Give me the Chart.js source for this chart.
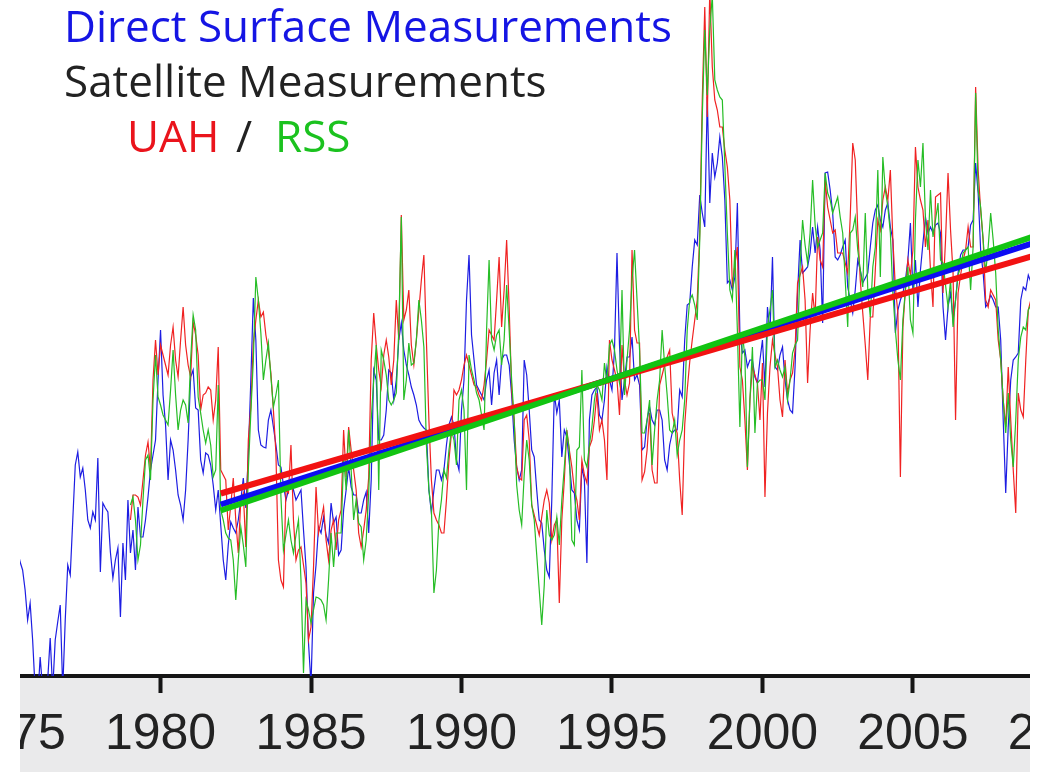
<!DOCTYPE html>
<html>
<head>
<meta charset="utf-8">
<title>Surface and satellite temperature records</title>
<script src="https://cdn.jsdelivr.net/npm/chart.js@4.4.1/dist/chart.umd.min.js"></script>
<style>
  html, body { margin: 0; padding: 0; background: #ffffff; }
  #wrap { position: relative; width: 1041px; height: 772px; }
  canvas { display: block; }
</style>
</head>
<body>
<div id="wrap"><canvas id="chart" width="1041" height="772"></canvas></div>
<script>
// Year ticks along the bottom axis
const tickYears = [1975, 1980, 1985, 1990, 1995, 2000, 2005, 2010];

// Monthly temperature anomalies (deg C), one row per year
const surfaceStartYear = 1975;
const surfaceMonthly = [
  -0.206, -0.236, -0.216, -0.226, -0.25, -0.266, -0.306, -0.366, -0.332, -0.406, -0.506, -0.526, // 1975
  -0.44, -0.506, -0.526, -0.486, -0.402, -0.506, -0.406, -0.37, -0.336, -0.506, -0.366, -0.256,  // 1976
  -0.276, -0.166, -0.056, -0.03, -0.08, -0.062, -0.106, -0.166, -0.182, -0.15, -0.166, -0.042,   // 1977
  -0.27, -0.132, -0.142, -0.15, -0.23, -0.282, -0.246, -0.222, -0.36, -0.212, -0.286, -0.126,    // 1978
  -0.232, -0.186, -0.266, -0.14, -0.2, -0.2, -0.166, -0.12, -0.066, -0.036, -0.006, 0.114,       // 1979
  0.214, 0.084, 0.024, -0.086, -0.006, -0.026, -0.066, -0.116, -0.136, -0.166, -0.106, -0.006,   // 1980
  0.12, 0.134, 0.058, 0.054, -0.046, -0.072, -0.032, -0.036, -0.056, -0.096, -0.146, -0.106,     // 1981
  -0.176, -0.246, -0.286, -0.216, -0.17, -0.182, -0.192, -0.166, -0.126, -0.082, -0.142, -0.036, // 1982
  0.114, 0.278, 0.194, 0.014, -0.016, -0.02, -0.022, 0.034, 0.054, 0.02, -0.016, -0.056,         // 1983
  -0.06, -0.096, -0.126, -0.106, -0.086, -0.106, -0.126, -0.116, -0.106, -0.186, -0.26, -0.412,  // 1984
  -0.496, -0.312, -0.256, -0.18, -0.192, -0.16, -0.196, -0.212, -0.132, -0.172, -0.16, -0.236,   // 1985
  -0.226, -0.146, -0.106, -0.06, -0.1, -0.116, -0.116, -0.152, -0.152, -0.126, -0.11, -0.192,    // 1986
  -0.086, 0.134, 0.114, -0.006, -0.006, 0.004, 0.054, 0.134, 0.128, 0.074, 0.114, 0.194,         // 1987
  0.228, 0.174, 0.144, 0.124, 0.1, 0.084, 0.064, 0.034, 0.024, 0.018, 0.014, -0.106,             // 1988
  -0.152, -0.106, -0.066, -0.066, -0.086, -0.066, -0.016, 0.024, 0.04, 0.024, -0.046, -0.066,    // 1989
  0.054, 0.114, 0.274, 0.364, 0.204, 0.154, 0.104, 0.094, 0.084, 0.074, 0.114, 0.134,            // 1990
  0.064, 0.128, 0.154, 0.084, 0.154, 0.164, 0.164, 0.144, 0.084, -0.006, -0.06, -0.086,          // 1991
  -0.066, 0.154, 0.124, 0.054, -0.026, -0.04, -0.106, -0.166, -0.172, -0.226, -0.266, -0.28,     // 1992
  -0.126, 0.088, 0.048, 0.074, -0.04, 0.014, 0, -0.052, -0.106, -0.112, -0.166, -0.186,          // 1993
  -0.06, -0.086, -0.252, 0.034, 0.084, 0.094, 0.1, 0.044, 0.034, 0.074, 0.14, 0.114,             // 1994
  0.094, 0.174, 0.368, 0.184, 0.074, 0.114, 0.16, 0.16, 0.2, 0.114, 0.124, 0.104,                // 1995
  -0.026, -0.02, 0.034, 0.06, 0.034, 0.024, 0.054, 0.054, 0.034, -0.046, -0.066, -0.016,         // 1996
  0.008, 0.014, 0.014, 0.094, 0.08, 0.194, 0.264, 0.268, 0.34, 0.394, 0.384, 0.484,              // 1997
  0.448, 0.42, 0.68, 0.468, 0.568, 0.52, 0.548, 0.6, 0.56, 0.474, 0.308, 0.314,                  // 1998
  0.294, 0.32, 0.468, 0.208, 0.168, 0.174, 0.14, 0.154, 0.154, 0.12, 0.108, 0.154,               // 1999
  0.194, 0.1, 0.26, 0.208, 0.36, 0.14, 0.134, 0.164, 0.18, 0.114, 0.074, 0.054,                  // 2000
  0.048, 0.14, 0.288, 0.394, 0.328, 0.334, 0.34, 0.368, 0.42, 0.368, 0.42, 0.374,                // 2001
  0.228, 0.528, 0.53, 0.494, 0.448, 0.36, 0.354, 0.364, 0.38, 0.394, 0.3, 0.274,                 // 2002
  0.248, 0.294, 0.354, 0.334, 0.308, 0.318, 0.328, 0.38, 0.428, 0.454, 0.464, 0.434,             // 2003
  0.42, 0.454, 0.468, 0.42, 0.394, 0.208, 0.254, 0.274, 0.288, 0.314, 0.354, 0.428,              // 2004
  0.288, 0.354, 0.26, 0.334, 0.388, 0.44, 0.408, 0.42, 0.408, 0.424, 0.428, 0.408,               // 2005
  0.26, 0.194, 0.26, 0.288, 0.234, 0.274, 0.328, 0.364, 0.374, 0.374, 0.38, 0.424,               // 2006
  0.434, 0.548, 0.488, 0.374, 0.328, 0.26, 0.268, 0.284, 0.274, 0.26, 0.26, 0.194,               // 2007
  0.034, -0.112, 0.02, 0.114, 0.154, 0.16, 0.168, 0.274, 0.3, 0.294, 0.324, 0.31                 // 2008
];

const satelliteStartYear = 1979;
const uahMonthly = [
  -0.166, -0.116, -0.116, -0.12, -0.136, -0.086, -0.036, -0.01, -0.066, 0.114, 0.194, 0.124,     // 1979
  0.184, 0.164, 0.144, 0.124, 0.184, 0.22, 0.154, 0.12, 0.194, 0.26, 0.184, 0.144,               // 1980
  0.12, 0.23, 0.204, 0.164, 0.054, 0.084, 0.088, 0.1, 0.094, 0.034, 0.074, 0.18,                 // 1981
  -0.066, -0.076, -0.086, -0.186, -0.136, -0.082, -0.166, -0.232, -0.126, -0.112, -0.22, -0.006, // 1982
  0.06, 0.188, 0.234, 0.274, 0.24, 0.25, 0.204, 0.174, 0.128, 0.054, -0.032, -0.246,             // 1983
  -0.286, -0.3, -0.106, -0.112, -0.016, -0.166, -0.246, -0.226, -0.22, -0.256, -0.292, -0.406,   // 1984
  -0.38, -0.26, -0.1, -0.192, -0.166, -0.14, -0.206, -0.246, -0.186, -0.166, -0.226, -0.166,     // 1985
  -0.146, 0.014, -0.08, 0.02, -0.026, -0.066, -0.106, -0.192, -0.22, -0.186, -0.146, -0.08,      // 1986
  0.154, 0.248, 0.184, 0.134, 0.1, 0.164, 0.194, 0.16, 0.104, 0.154, 0.274, 0.194,               // 1987
  0.444, 0.234, 0.254, 0.294, 0.184, 0.144, 0.194, 0.254, 0.314, 0.364, 0.194, 0.034,            // 1988
  -0.086, -0.152, -0.166, -0.176, -0.192, -0.192, -0.126, -0.046, 0.008, 0.094, 0.084, 0.094,    // 1989
  0.114, 0.144, 0.164, 0.144, 0.124, 0.104, 0.1, 0.084, 0.074, 0.104, 0.154, 0.214,              // 1990
  0.204, 0.194, 0.274, 0.36, 0.22, 0.294, 0.394, 0.26, 0.094, 0.034, -0.06, -0.082,              // 1991
  -0.086, 0.034, 0.044, -0.006, -0.136, -0.156, -0.176, -0.196, -0.16, -0.126, -0.106, -0.132,   // 1992
  -0.206, -0.176, -0.166, -0.332, -0.166, -0.086, 0.014, -0.026, -0.06, -0.106, -0.126, -0.166,  // 1993
  -0.046, -0.076, -0.092, -0.02, -0.006, 0.034, 0.088, 0.014, 0.034, -0.006, -0.086, 0.194,      // 1994
  0.154, 0.134, 0.114, 0.044, 0.184, 0.114, 0.084, 0.108, 0.374, 0.214, 0.188, 0.188,            // 1995
  -0.086, -0.07, -0.026, 0.048, -0.066, -0.092, -0.092, 0.104, 0.124, 0.144, 0.16, 0.174,        // 1996
  0.048, 0.024, 0.008, -0.086, -0.156, 0.024, 0.094, 0.15, 0.194, 0.234, 0.274, 0.408,           // 1997
  0.674, 0.86, 0.64, 0.894, 0.74, 0.674, 0.654, 0.62, 0.62, 0.574, 0.54, 0.474,                  // 1998
  0.3, 0.344, 0.38, 0.14, 0.114, 0.034, -0.066, 0.074, 0.14, 0.124, 0.108, 0.034,                // 1999
  0.148, -0.12, 0.048, 0.14, 0.194, 0.164, 0.14, 0.074, 0.04, 0.154, 0.088, 0.114,               // 2000
  0.128, 0.174, 0.308, 0.324, 0.34, 0.274, 0.108, 0.214, 0.288, 0.24, 0.4, 0.354,                // 2001
  0.34, 0.514, 0.46, 0.434, 0.408, 0.414, 0.368, 0.368, 0.368, 0.348, 0.328, 0.44,               // 2002
  0.588, 0.554, 0.414, 0.314, 0.248, 0.184, 0.114, 0.24, 0.24, 0.334, 0.434, 0.414,              // 2003
  0.474, 0.5, 0.474, 0.534, 0.394, 0.3, 0.248, -0.08, 0.22, 0.294, 0.354, 0.324,                 // 2004
  0.374, 0.58, 0.5, 0.474, 0.454, 0.38, 0.434, 0.334, 0.26, 0.48, 0.484, 0.488,                  // 2005
  0.288, 0.394, 0.528, 0.414, 0.328, 0.034, 0.288, 0.324, 0.354, 0.374, 0.42, 0.38,              // 2006
  0.38, 0.7, 0.534, 0.454, 0.394, 0.274, 0.26, 0.294, 0.284, 0.274, 0.194, 0.154,                // 2007
  0.074, 0.02, 0.14, 0.034, -0.066, -0.152, 0.088, 0.054, 0.04, 0.154, 0.254, 0.274              // 2008
];

const rssMonthly = [
  -0.136, -0.12, -0.166, -0.246, -0.216, -0.126, -0.046, -0.036, -0.086, 0.074, 0.164, 0.08,     // 1979
  0.064, 0.044, 0.034, 0.024, 0.094, 0.174, 0.084, 0.014, 0.054, 0.074, 0.064, 0.028,            // 1980
  0.154, 0.244, 0.214, 0.08, 0.048, 0.014, -0.012, 0.014, -0.016, -0.08, -0.066, 0.104,          // 1981
  -0.146, -0.166, -0.192, -0.202, -0.206, -0.246, -0.326, -0.246, -0.18, -0.216, -0.26, -0.066,  // 1982
  0.048, 0.154, 0.32, 0.274, 0.208, 0.114, 0.154, 0.188, 0.12, 0.06, 0.084, 0.114,               // 1983
  -0.12, -0.226, -0.196, -0.166, -0.206, -0.232, -0.196, -0.166, -0.286, -0.472, -0.326, -0.346, // 1984
  -0.372, -0.346, -0.32, -0.322, -0.326, -0.336, -0.366, -0.286, -0.192, -0.26, -0.192, -0.192,  // 1985
  -0.192, -0.04, -0.106, 0.014, -0.066, -0.166, -0.126, -0.172, -0.18, -0.246, -0.206, -0.112,   // 1986
  0.034, 0.114, 0.184, -0.106, 0.174, 0.154, 0.124, 0.074, 0.064, 0.074, 0.088, 0.214,           // 1987
  0.44, 0.074, 0.114, 0.188, 0.144, 0.148, 0.194, 0.274, 0.234, 0.18, -0.016, -0.106,            // 1988
  -0.146, -0.312, -0.266, -0.166, -0.126, -0.066, -0.082, -0.026, 0.014, -0.006, -0.056, 0.074,  // 1989
  0.094, 0.054, -0.106, 0.164, 0.134, 0.114, 0.088, 0.074, 0.044, 0.014, 0.214, 0.354,           // 1990
  0.194, 0.174, 0.204, 0.214, 0.144, 0.194, 0.304, 0.214, 0.114, 0.034, -0.096, -0.146,          // 1991
  -0.176, -0.076, -0.006, -0.046, -0.136, -0.166, -0.236, -0.306, -0.376, -0.296, -0.146, -0.196, // 1992
  -0.206, -0.196, -0.16, -0.216, -0.126, -0.06, 0.01, -0.026, -0.206, -0.216, -0.026, -0.02,     // 1993
  0.134, -0.046, -0.06, -0.016, 0.02, 0.074, 0.104, 0.094, 0.074, 0.148, 0.108, 0.184,           // 1994
  0.194, 0.174, 0.134, 0.108, 0.294, 0.084, 0.154, 0.214, 0.314, 0.374, 0.274, 0.174,            // 1995
  0.008, 0.008, 0.034, 0.074, -0.056, 0.014, 0.074, 0.114, 0.214, 0.144, 0.084, 0.014,          // 1996
  0.008, 0.034, -0.036, -0.006, 0.014, 0.074, 0.214, 0.274, 0.284, 0.264, 0.234, 0.394,          // 1997
  0.64, 0.814, 0.684, 0.814, 0.884, 0.714, 0.694, 0.68, 0.674, 0.544, 0.408, 0.294,              // 1998
  0.274, 0.374, 0.214, 0.02, 0.208, 0.16, -0.06, 0.074, 0.18, 0.008, 0.108, 0.114,               // 1999
  0.114, 0.074, 0.22, 0.254, 0.294, 0.14, 0.154, 0.134, 0.12, 0.14, 0.074, 0.114,                // 2000
  0.168, 0.184, 0.194, 0.34, 0.434, 0.384, 0.348, 0.408, 0.514, 0.424, 0.38, 0.394,              // 2001
  0.408, 0.528, 0.488, 0.474, 0.448, 0.464, 0.48, 0.44, 0.408, 0.314, 0.22, 0.408,               // 2002
  0.414, 0.44, 0.374, 0.334, 0.3, 0.448, 0.294, 0.24, 0.34, 0.38, 0.534, 0.32,                   // 2003
  0.56, 0.494, 0.46, 0.408, 0.288, 0.214, 0.154, 0.114, 0.234, 0.294, 0.34, 0.234,               // 2004
  0.208, 0.434, 0.554, 0.5, 0.588, 0.434, 0.374, 0.494, 0.4, 0.434, 0.468, 0.354,                // 2005
  0.348, 0.304, 0.26, 0.314, 0.22, 0.274, 0.324, 0.34, 0.368, 0.374, 0.38, 0.294,               // 2006
  0.38, 0.688, 0.494, 0.46, 0.394, 0.328, 0.38, 0.448, 0.394, 0.328, 0.214, 0.154,               // 2007
  0.074, 0.008, 0.088, -0.006, -0.06, 0.034, 0.154, 0.2, 0.22, 0.214, 0.254, 0.264               // 2008
];

// Linear trends, start and end of the fitted period
const trendYears = [1982, 2009];
const surfaceTrend = [-0.135, 0.388];
const uahTrend = [-0.113, 0.362];
const rssTrend = [-0.147, 0.401];

// Title lines
const titleSurface = 'Direct Surface Measurements';
const titleSatellite = 'Satellite Measurements';
const titleUah = 'UAH';
const titleSlash = '/';
const titleRss = 'RSS';

const COLORS = {
  surface: '#1d1de2',
  uah: '#f02222',
  rss: '#26bd26',
  surfaceTrend: '#0c0cf2',
  uahTrend: '#f21212',
  rssTrend: '#12c412',
  textBlue: '#1515e4',
  textRed: '#ea141c',
  textGreen: '#1bc21f',
  textDark: '#222222',
  band: '#eaeaeb',
  axis: '#151515'
};

function monthlyPoints(startYear, values) {
  return values.map((v, i) => ({ x: startYear + i / 12, y: v }));
}
function trendPoints(values) {
  return trendYears.map((yr, i) => ({ x: yr, y: values[i] }));
}

// Grey band under the plot; the clip keeps axis labels inside the plot's width
const axisBand = {
  id: 'axisBand',
  beforeDraw(chart) {
    const { ctx, chartArea } = chart;
    ctx.save();
    ctx.beginPath();
    ctx.rect(chartArea.left, 0, chartArea.right - chartArea.left, chart.height);
    ctx.clip();
    ctx.fillStyle = COLORS.band;
    ctx.fillRect(chartArea.left, chartArea.bottom, chartArea.right - chartArea.left, chart.height - chartArea.bottom);
  },
  afterDraw(chart) {
    chart.ctx.restore();
  }
};

// Coloured title block in the upper left
const titleBlock = {
  id: 'titleBlock',
  afterDraw(chart) {
    const ctx = chart.ctx;
    ctx.save();
    ctx.font = "44px 'Open Sans', 'Noto Sans', sans-serif";
    ctx.textBaseline = 'alphabetic';
    ctx.textAlign = 'left';
    ctx.fillStyle = COLORS.textBlue;
    ctx.fillText(titleSurface, 64, 42);
    ctx.fillStyle = COLORS.textDark;
    ctx.fillText(titleSatellite, 64, 97);
    ctx.fillStyle = COLORS.textRed;
    ctx.fillText(titleUah, 127, 152);
    ctx.fillStyle = COLORS.textDark;
    ctx.fillText(titleSlash, 236, 152);
    ctx.fillStyle = COLORS.textGreen;
    ctx.fillText(titleRss, 275, 152);
    ctx.restore();
  }
};

const lineStyle = { pointRadius: 0, pointHoverRadius: 0, tension: 0, fill: false };

new Chart(document.getElementById('chart'), {
  type: 'line',
  data: {
    datasets: [
      Object.assign({ label: 'RSS trend', data: trendPoints(rssTrend), borderColor: COLORS.rssTrend, borderWidth: 6, order: 0, borderCapStyle: 'butt' }, lineStyle),
      Object.assign({ label: 'UAH trend', data: trendPoints(uahTrend), borderColor: COLORS.uahTrend, borderWidth: 6, order: 1, borderCapStyle: 'butt' }, lineStyle),
      Object.assign({ label: 'Surface trend', data: trendPoints(surfaceTrend), borderColor: COLORS.surfaceTrend, borderWidth: 6, order: 2, borderCapStyle: 'butt' }, lineStyle),
      Object.assign({ label: 'RSS', data: monthlyPoints(satelliteStartYear, rssMonthly), borderColor: COLORS.rss, borderWidth: 1.2, order: 3 }, lineStyle),
      Object.assign({ label: 'UAH', data: monthlyPoints(satelliteStartYear, uahMonthly), borderColor: COLORS.uah, borderWidth: 1.2, order: 4 }, lineStyle),
      Object.assign({ label: 'Surface', data: monthlyPoints(surfaceStartYear, surfaceMonthly), borderColor: COLORS.surface, borderWidth: 1.2, order: 5 }, lineStyle)
    ]
  },
  options: {
    responsive: false,
    animation: false,
    devicePixelRatio: 1,
    layout: { padding: { left: 20, right: 11, top: 0, bottom: 0 } },
    plugins: { legend: { display: false }, tooltip: { enabled: false }, title: { display: false } },
    events: [],
    scales: {
      x: {
        type: 'linear',
        min: 1975.33,
        max: 2008.89,
        afterBuildTicks: (scale) => { scale.ticks = tickYears.map((v) => ({ value: v })); },
        afterFit: (scale) => { scale.paddingLeft = 0; scale.paddingRight = 0; scale.height = 96; },
        border: { display: true, color: COLORS.axis, width: 4 },
        grid: { display: true, drawOnChartArea: false, drawTicks: true, tickLength: 17, tickWidth: 4, tickColor: COLORS.axis },
        ticks: {
          autoSkip: false, maxRotation: 0, minRotation: 0, padding: 12,
          color: COLORS.textDark,
          font: { family: "'Liberation Sans', Arial, sans-serif", size: 50 },
          callback: (v) => String(v)
        }
      },
      y: { display: false, min: -0.478, max: 0.874 }
    }
  },
  plugins: [axisBand, titleBlock]
});
</script>
</body>
</html>
